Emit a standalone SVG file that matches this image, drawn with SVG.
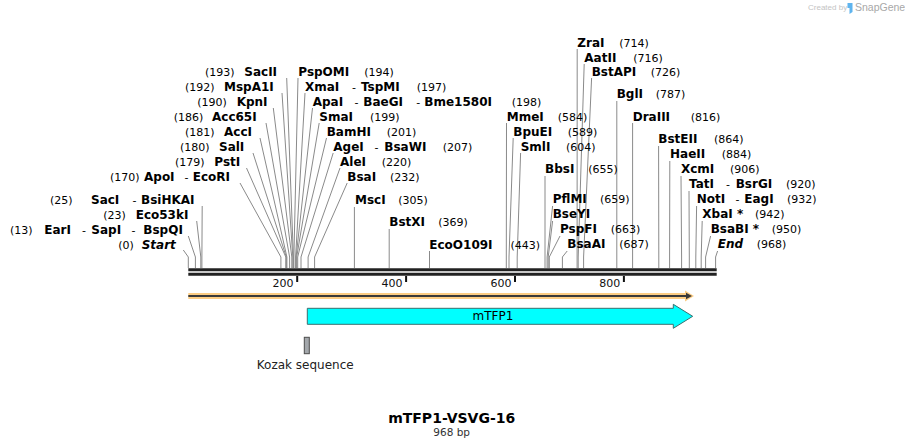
<svg xmlns="http://www.w3.org/2000/svg" width="905" height="448" viewBox="0 0 905 448">
<style>
text{font-family:"DejaVu Sans","Verdana",sans-serif;fill:#000}
.nm{font-weight:bold;font-size:12px}
.it{font-weight:bold;font-style:italic;font-size:12px}
.nu{font-size:11px}
.dh{font-size:11px}
.cn polyline{fill:none;stroke:#8a8a8a;stroke-width:1}
.tk{font-size:11px;text-anchor:end;fill:#111}
</style>
<rect width="905" height="448" fill="#fff"/>
<g id="credit">
<text x="808" y="10" style="font-size:8px;fill:#c4c4c4;font-family:'Liberation Sans',sans-serif">Created by</text>
<path d="M847.5,3 h5 v9 l-3,2 v-6 h-2 z" fill="#5fb4ee"/>
<text x="855" y="11" style="font-size:10.5px;fill:#a8a8a8;font-family:'Liberation Sans',sans-serif">SnapGene</text>
</g>
<g id="connectors" class="cn">
<polyline points="286.7,78 293.4,257 293.4,268"/>
<polyline points="282,93 292.8,257 292.8,268"/>
<polyline points="273.3,108 291.8,257 291.8,268"/>
<polyline points="266,123 289.6,257 289.6,268"/>
<polyline points="260,138 286.9,257 286.9,268"/>
<polyline points="253,153 286.3,257 286.3,268"/>
<polyline points="246.5,168 285.8,257 285.8,268"/>
<polyline points="240,183 280.9,257 280.9,268"/>
<polyline points="202.2,206 201.9,257 201.9,268"/>
<polyline points="196.7,221 200.8,257 200.8,268"/>
<polyline points="188.3,236 195.4,257 195.4,268"/>
<polyline points="183.3,250 188.3,257 188.3,268"/>
<polyline points="298,78 293.9,257 293.9,268"/>
<polyline points="305,93 295.6,257 295.6,268"/>
<polyline points="312.5,108 296.1,257 296.1,268"/>
<polyline points="319.2,123 296.7,257 296.7,268"/>
<polyline points="326.5,138 297.7,257 297.7,268"/>
<polyline points="333.2,153 301,257 301,268"/>
<polyline points="340,168 308.1,257 308.1,268"/>
<polyline points="347.2,183 314.6,257 314.6,268"/>
<polyline points="354.4,207 354.4,268"/>
<polyline points="389.2,229 389.2,268"/>
<polyline points="429.5,251 429.5,268"/>
<polyline points="506.5,123 506.3,257 506.3,268"/>
<polyline points="513.2,138 509,257 509,268"/>
<polyline points="520.6,153 517.2,257 517.2,268"/>
<polyline points="545,176 545,268"/>
<polyline points="552.6,206 547.1,257 547.1,268"/>
<polyline points="552.6,221 548.2,257 548.2,268"/>
<polyline points="560,236 549.3,257 549.3,268"/>
<polyline points="567.2,251 562.4,257 562.4,268"/>
<polyline points="577.2,49 577.1,257 577.1,268"/>
<polyline points="584.2,64 578.2,257 578.2,268"/>
<polyline points="591.6,78 583.6,257 583.6,268"/>
<polyline points="616.8,101 616.8,268"/>
<polyline points="632.6,123 632.6,268"/>
<polyline points="658.6,146 658.8,257 658.8,268"/>
<polyline points="669.8,161 669.6,257 669.6,268"/>
<polyline points="681,176 681.6,257 681.6,268"/>
<polyline points="689,191 689.3,257 689.3,268"/>
<polyline points="696.6,206 695.8,257 695.8,268"/>
<polyline points="702.2,221 701.2,257 701.2,268"/>
<polyline points="710.6,236 705.6,257 705.6,268"/>
<polyline points="717.6,251 715.6,257 715.6,268"/>
</g>
<g id="sequence-bar">
<line x1="188.3" y1="269.8" x2="716.7" y2="269.8" stroke="#222" stroke-width="3"/>
<line x1="188.3" y1="274.2" x2="716.7" y2="274.2" stroke="#222" stroke-width="3"/>
<rect x="296.2" y="276" width="2" height="6" fill="#111"/>
<rect x="405.1" y="276" width="2" height="6" fill="#111"/>
<rect x="514" y="276" width="2" height="6" fill="#111"/>
<rect x="622.9" y="276" width="2" height="6" fill="#111"/>
<text class="tk" x="293.6" y="286.5">200</text>
<text class="tk" x="402.5" y="286.5">400</text>
<text class="tk" x="511.4" y="286.5">600</text>
<text class="tk" x="620.3" y="286.5">800</text>
</g>
<g id="orf">
<path d="M188.3,296 H688" stroke="#fccd84" stroke-width="6" fill="none"/>
<path d="M685,290.5 L694,296 L685,301.5 Z" fill="#fccd84"/>
<path d="M188.3,296 H688" stroke="#3a3a3a" stroke-width="2" fill="none"/>
<path d="M686,292.8 L692,296 L686,299.2 Z" fill="#3a3a3a"/>
</g>
<g id="mTFP1">
<polygon points="307.3,308.3 673.3,308.3 673.3,304.3 692.7,316.3 673.3,328.3 673.3,324.3 307.3,324.3" fill="#00ffff" stroke="#3b6f6f" stroke-width="1"/>
<text x="493" y="320.3" style="font-size:12px;text-anchor:middle">mTFP1</text>
</g>
<g id="kozak">
<rect x="304.3" y="337.3" width="5" height="16.4" fill="#a3a7ab" stroke="#4d4d4d" stroke-width="1"/>
<text x="305.2" y="369.3" style="font-size:12px;text-anchor:middle;fill:#222">Kozak sequence</text>
</g>
<g id="title">
<text x="451.7" y="422.5" style="font-size:14px;font-weight:bold;text-anchor:middle">mTFP1-VSVG-16</text>
<text x="451.7" y="435.5" style="font-size:10.5px;text-anchor:middle;fill:#333">968 bp</text>
</g>
<g id="labels">
<g id="SacII"><text y="76"><tspan class="nu" x="205">(193)</tspan><tspan class="nm" x="244.3">SacII</tspan></text></g>
<g id="MspA1I"><text y="91"><tspan class="nu" x="185">(192)</tspan><tspan class="nm" x="224">MspA1I</tspan></text></g>
<g id="KpnI"><text y="106"><tspan class="nu" x="197.3">(190)</tspan><tspan class="nm" x="236.7">KpnI</tspan></text></g>
<g id="Acc65I"><text y="121"><tspan class="nu" x="173.7">(186)</tspan><tspan class="nm" x="212">Acc65I</tspan></text></g>
<g id="AccI"><text y="136"><tspan class="nu" x="185">(181)</tspan><tspan class="nm" x="224">AccI</tspan></text></g>
<g id="SalI"><text y="151"><tspan class="nu" x="180">(180)</tspan><tspan class="nm" x="219">SalI</tspan></text></g>
<g id="PstI"><text y="166"><tspan class="nu" x="175">(179)</tspan><tspan class="nm" x="214.3">PstI</tspan></text></g>
<g id="ApoI-EcoRI"><text y="181"><tspan class="nu" x="110">(170)</tspan><tspan class="nm" x="144">ApoI</tspan><tspan class="dh" x="184.5">-</tspan><tspan class="nm" x="192.7">EcoRI</tspan></text></g>
<g id="SacI-BsiHKAI"><text y="204"><tspan class="nu" x="50">(25)</tspan><tspan class="nm" x="91">SacI</tspan><tspan class="dh" x="132.5">-</tspan><tspan class="nm" x="141">BsiHKAI</tspan></text></g>
<g id="Eco53kI"><text y="219"><tspan class="nu" x="103.3">(23)</tspan><tspan class="nm" x="135.7">Eco53kI</tspan></text></g>
<g id="EarI-SapI-BspQI"><text y="234"><tspan class="nu" x="10">(13)</tspan><tspan class="nm" x="44.3">EarI</tspan><tspan class="dh" x="82">-</tspan><tspan class="nm" x="91.3">SapI</tspan><tspan class="dh" x="131.5">-</tspan><tspan class="nm" x="143.3">BspQI</tspan></text></g>
<g id="Start"><text y="248.5"><tspan class="nu" x="118.3">(0)</tspan><tspan class="it" x="141.7">Start</tspan></text></g>
<g id="PspOMI"><text y="76"><tspan class="nm" x="298.3">PspOMI</tspan><tspan class="nu" x="364.3">(194)</tspan></text></g>
<g id="XmaI-TspMI"><text y="91"><tspan class="nm" x="305">XmaI</tspan><tspan class="dh" x="352">-</tspan><tspan class="nm" x="361">TspMI</tspan><tspan class="nu" x="416.7">(197)</tspan></text></g>
<g id="ApaI-BaeGI-Bme1580I"><text y="106"><tspan class="nm" x="312.7">ApaI</tspan><tspan class="dh" x="354.5">-</tspan><tspan class="nm" x="363.3">BaeGI</tspan><tspan class="dh" x="416.2">-</tspan><tspan class="nm" x="424.3">Bme1580I</tspan><tspan class="nu" x="511.7">(198)</tspan></text></g>
<g id="SmaI"><text y="121"><tspan class="nm" x="319.3">SmaI</tspan><tspan class="nu" x="370">(199)</tspan></text></g>
<g id="BamHI"><text y="136"><tspan class="nm" x="326.7">BamHI</tspan><tspan class="nu" x="386.7">(201)</tspan></text></g>
<g id="AgeI-BsaWI"><text y="151"><tspan class="nm" x="333.3">AgeI</tspan><tspan class="dh" x="374.5">-</tspan><tspan class="nm" x="384.3">BsaWI</tspan><tspan class="nu" x="442.7">(207)</tspan></text></g>
<g id="AleI"><text y="166"><tspan class="nm" x="340">AleI</tspan><tspan class="nu" x="381.7">(220)</tspan></text></g>
<g id="BsaI"><text y="181"><tspan class="nm" x="347.3">BsaI</tspan><tspan class="nu" x="390">(232)</tspan></text></g>
<g id="MscI"><text y="204"><tspan class="nm" x="355">MscI</tspan><tspan class="nu" x="398.3">(305)</tspan></text></g>
<g id="BstXI"><text y="226"><tspan class="nm" x="389.3">BstXI</tspan><tspan class="nu" x="438.3">(369)</tspan></text></g>
<g id="EcoO109I"><text y="248.5"><tspan class="nm" x="429.3">EcoO109I</tspan><tspan class="nu" x="510.5">(443)</tspan></text></g>
<g id="ZraI"><text y="46.7"><tspan class="nm" x="577.3">ZraI</tspan><tspan class="nu" x="619.3">(714)</tspan></text></g>
<g id="AatII"><text y="61.7"><tspan class="nm" x="584.3">AatII</tspan><tspan class="nu" x="633.3">(716)</tspan></text></g>
<g id="BstAPI"><text y="76"><tspan class="nm" x="591.7">BstAPI</tspan><tspan class="nu" x="650.7">(726)</tspan></text></g>
<g id="BglI"><text y="98.3"><tspan class="nm" x="616.7">BglI</tspan><tspan class="nu" x="655.7">(787)</tspan></text></g>
<g id="MmeI"><text y="121"><tspan class="nm" x="506.7">MmeI</tspan><tspan class="nu" x="557.7">(584)</tspan></text></g>
<g id="DraIII"><text y="121"><tspan class="nm" x="632.7">DraIII</tspan><tspan class="nu" x="690.7">(816)</tspan></text></g>
<g id="BpuEI"><text y="136"><tspan class="nm" x="513.3">BpuEI</tspan><tspan class="nu" x="567.7">(589)</tspan></text></g>
<g id="BstEII"><text y="143.3"><tspan class="nm" x="658.3">BstEII</tspan><tspan class="nu" x="714">(864)</tspan></text></g>
<g id="SmlI"><text y="150.7"><tspan class="nm" x="520.7">SmlI</tspan><tspan class="nu" x="566">(604)</tspan></text></g>
<g id="HaeII"><text y="158.3"><tspan class="nm" x="670">HaeII</tspan><tspan class="nu" x="721.7">(884)</tspan></text></g>
<g id="BbsI"><text y="173.3"><tspan class="nm" x="545">BbsI</tspan><tspan class="nu" x="588.3">(655)</tspan></text></g>
<g id="XcmI"><text y="173.3"><tspan class="nm" x="681">XcmI</tspan><tspan class="nu" x="730">(906)</tspan></text></g>
<g id="TatI-BsrGI"><text y="188.3"><tspan class="nm" x="689">TatI</tspan><tspan class="dh" x="726">-</tspan><tspan class="nm" x="735.7">BsrGI</tspan><tspan class="nu" x="786">(920)</tspan></text></g>
<g id="PflMI"><text y="203.3"><tspan class="nm" x="552.7">PflMI</tspan><tspan class="nu" x="600">(659)</tspan></text></g>
<g id="NotI-EagI"><text y="203.3"><tspan class="nm" x="696.7">NotI</tspan><tspan class="dh" x="735.5">-</tspan><tspan class="nm" x="744.3">EagI</tspan><tspan class="nu" x="787">(932)</tspan></text></g>
<g id="BseYI"><text y="218.3"><tspan class="nm" x="552.7">BseYI</tspan></text></g>
<g id="XbaI"><text y="218.3"><tspan class="nm" x="702.3">XbaI *</tspan><tspan class="nu" x="755">(942)</tspan></text></g>
<g id="PspFI"><text y="233.3"><tspan class="nm" x="560">PspFI</tspan><tspan class="nu" x="610.7">(663)</tspan></text></g>
<g id="BsaBI"><text y="233.3"><tspan class="nm" x="710.7">BsaBI *</tspan><tspan class="nu" x="771.7">(950)</tspan></text></g>
<g id="BsaAI"><text y="248.3"><tspan class="nm" x="567.3">BsaAI</tspan><tspan class="nu" x="619.3">(687)</tspan></text></g>
<g id="End"><text y="248.3"><tspan class="it" x="717.7">End</tspan><tspan class="nu" x="756.7">(968)</tspan></text></g>
</g>
</svg>
